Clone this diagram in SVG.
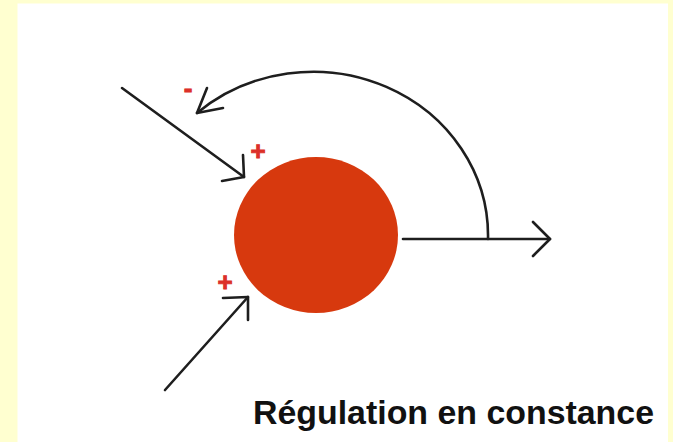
<svg xmlns="http://www.w3.org/2000/svg" width="673" height="442" viewBox="0 0 673 442">
<style>
.ln{fill:none;stroke:#1e1e1e;stroke-width:2.6;stroke-linecap:round;stroke-linejoin:round}
.sg{fill:#dc3028;stroke:#dc3028;stroke-width:0.9;font-family:"Liberation Sans",Arial,sans-serif;font-weight:bold;font-size:26px;text-anchor:middle}
.lbl{fill:#111;font-family:"Liberation Sans",Arial,sans-serif;font-weight:bold;font-size:33px}
</style>
<rect width="673" height="442" fill="#ffffd0"/>
<rect x="17.5" y="3.5" width="650.5" height="438.5" fill="#ffffff"/>
<g id="node-cell">
<ellipse cx="316" cy="235" rx="82" ry="78" fill="#d7390e"/>
</g>
<g id="connectors">
<g id="input-top">
<path class="ln" d="M122,88 L244,177"/>
<path class="ln" d="M243,155 L244,177 L222,181"/>
</g>
<g id="input-bottom">
<path class="ln" d="M165,390 L248,297"/>
<path class="ln" d="M223,298 L248,297 L248,320"/>
</g>
<g id="output">
<path class="ln" d="M403,239 L550,239"/>
<path class="ln" d="M533,222 L550,239 L533,256"/>
</g>
<g id="feedback">
<path class="ln" d="M488,239 A175,164 0 0 0 197,113"/>
<path class="ln" d="M207,88 L197,113 L223,108"/>
</g>
</g>
<g id="signs">
<text class="sg" x="188" y="97">-</text>
<text class="sg" x="258" y="160">+</text>
<text class="sg" x="225" y="291">+</text>
</g>
<text class="lbl" x="253" y="424" textLength="401" lengthAdjust="spacingAndGlyphs">Régulation en constance</text>
</svg>
